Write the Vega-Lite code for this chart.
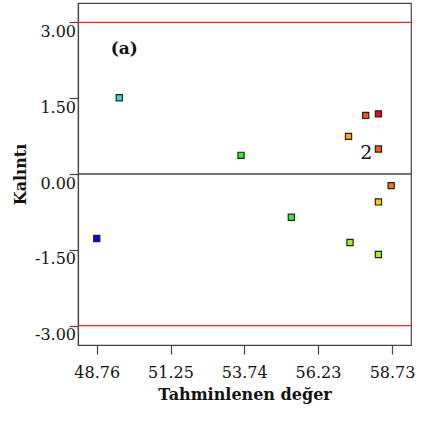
{
  "$schema": "https://vega.github.io/schema/vega-lite/v6.json",
  "width": 333,
  "height": 342,
  "autosize": "none",
  "padding": {"left": 78, "top": 3, "right": 11, "bottom": 78},
  "background": "white",
  "config": {
    "view": {"stroke": "#444444", "strokeWidth": 1.2},
    "font": "DejaVu Serif",
    "axis": {
      "grid": false,
      "domainColor": "#444444",
      "domainWidth": 1.2,
      "tickColor": "#444444",
      "tickWidth": 1.2,
      "tickSize": 9,
      "labelFont": "DejaVu Serif",
      "labelFontSize": 16,
      "labelColor": "#111111",
      "titleFont": "DejaVu Serif",
      "titleFontSize": 16,
      "titleFontWeight": "bold",
      "titleColor": "#111111"
    }
  },
  "layer": [
    {
      "data": {"values": [{"lim": 3}, {"lim": -3}]},
      "mark": {"type": "rule", "color": "#ff2222", "strokeWidth": 1.2},
      "encoding": {"y": {"field": "lim", "type": "quantitative"}}
    },
    {
      "data": {"values": [{"base": 0}]},
      "mark": {"type": "rule", "color": "#444444", "strokeWidth": 1.4},
      "encoding": {"y": {"field": "base", "type": "quantitative"}}
    },
    {
      "data": {
        "values": [
          {"fit": 48.76, "res": -1.277, "grp": "g01"},
          {"fit": 49.52, "res": 1.51, "grp": "g02"},
          {"fit": 53.63, "res": 0.37, "grp": "g03"},
          {"fit": 55.33, "res": -0.856, "grp": "g03"},
          {"fit": 57.31, "res": -1.356, "grp": "g04"},
          {"fit": 58.27, "res": -1.593, "grp": "g04"},
          {"fit": 58.27, "res": -0.553, "grp": "g05"},
          {"fit": 57.26, "res": 0.745, "grp": "g06"},
          {"fit": 58.7, "res": -0.23, "grp": "g07"},
          {"fit": 57.84, "res": 1.16, "grp": "g08"},
          {"fit": 58.27, "res": 0.494, "grp": "g08"},
          {"fit": 58.27, "res": 1.19, "grp": "g09"}
        ]
      },
      "mark": {"type": "square", "size": 38, "filled": true, "opacity": 1, "stroke": "#222222", "strokeWidth": 1.2},
      "encoding": {
        "x": {
          "field": "fit", "type": "quantitative",
          "scale": {"domain": [48.126, 59.37], "nice": false, "zero": false},
          "axis": {
            "title": "Tahminlenen değer",
            "values": [48.76, 51.25, 53.74, 56.23, 58.73],
            "format": ".2f",
            "labelPadding": 10,
            "labelFlush": false,
            "titleY": 54,
            "titleBaseline": "alphabetic"
          }
        },
        "y": {
          "field": "res", "type": "quantitative",
          "scale": {"domain": [-3.385, 3.385], "nice": false, "zero": false},
          "axis": {
            "title": "Kalıntı",
            "values": [-3, -1.5, 0, 1.5, 3],
            "labelExpr": "replace(format(datum.value, '.2f'), '\u2212', '-')",
            "labelBaseline": "top",
            "labelOffset": 1,
            "labelPadding": -6.5,
            "labelFlush": false,
            "titleX": -58,
            "titleY": 171,
            "titleAngle": -90,
            "titleAlign": "center",
            "titleBaseline": "middle"
          }
        },
        "color": {
          "field": "grp", "type": "nominal", "legend": null,
          "scale": {
            "domain": ["g01", "g02", "g03", "g04", "g05", "g06", "g07", "g08", "g09"],
            "range": ["#0000ff", "#33dddd", "#33ee33", "#aaf020", "#ffcc00", "#ffaa00", "#ff7700", "#ff5500", "#ff0000"]
          }
        }
      }
    },
    {
      "data": {"values": [{"fit": 57.86, "res": 0.41, "txt": "2"}]},
      "mark": {"type": "text", "font": "DejaVu Serif", "fontSize": 19, "color": "#111111", "align": "center", "baseline": "middle"},
      "encoding": {
        "x": {"field": "fit", "type": "quantitative"},
        "y": {"field": "res", "type": "quantitative"},
        "text": {"field": "txt"}
      }
    },
    {
      "data": {"values": [{"fit": 49.69, "res": 2.48, "txt": "(a)"}]},
      "mark": {"type": "text", "font": "DejaVu Serif", "fontSize": 17, "fontWeight": "bold", "color": "#111111", "align": "center", "baseline": "middle"},
      "encoding": {
        "x": {"field": "fit", "type": "quantitative"},
        "y": {"field": "res", "type": "quantitative"},
        "text": {"field": "txt"}
      }
    }
  ]
}
